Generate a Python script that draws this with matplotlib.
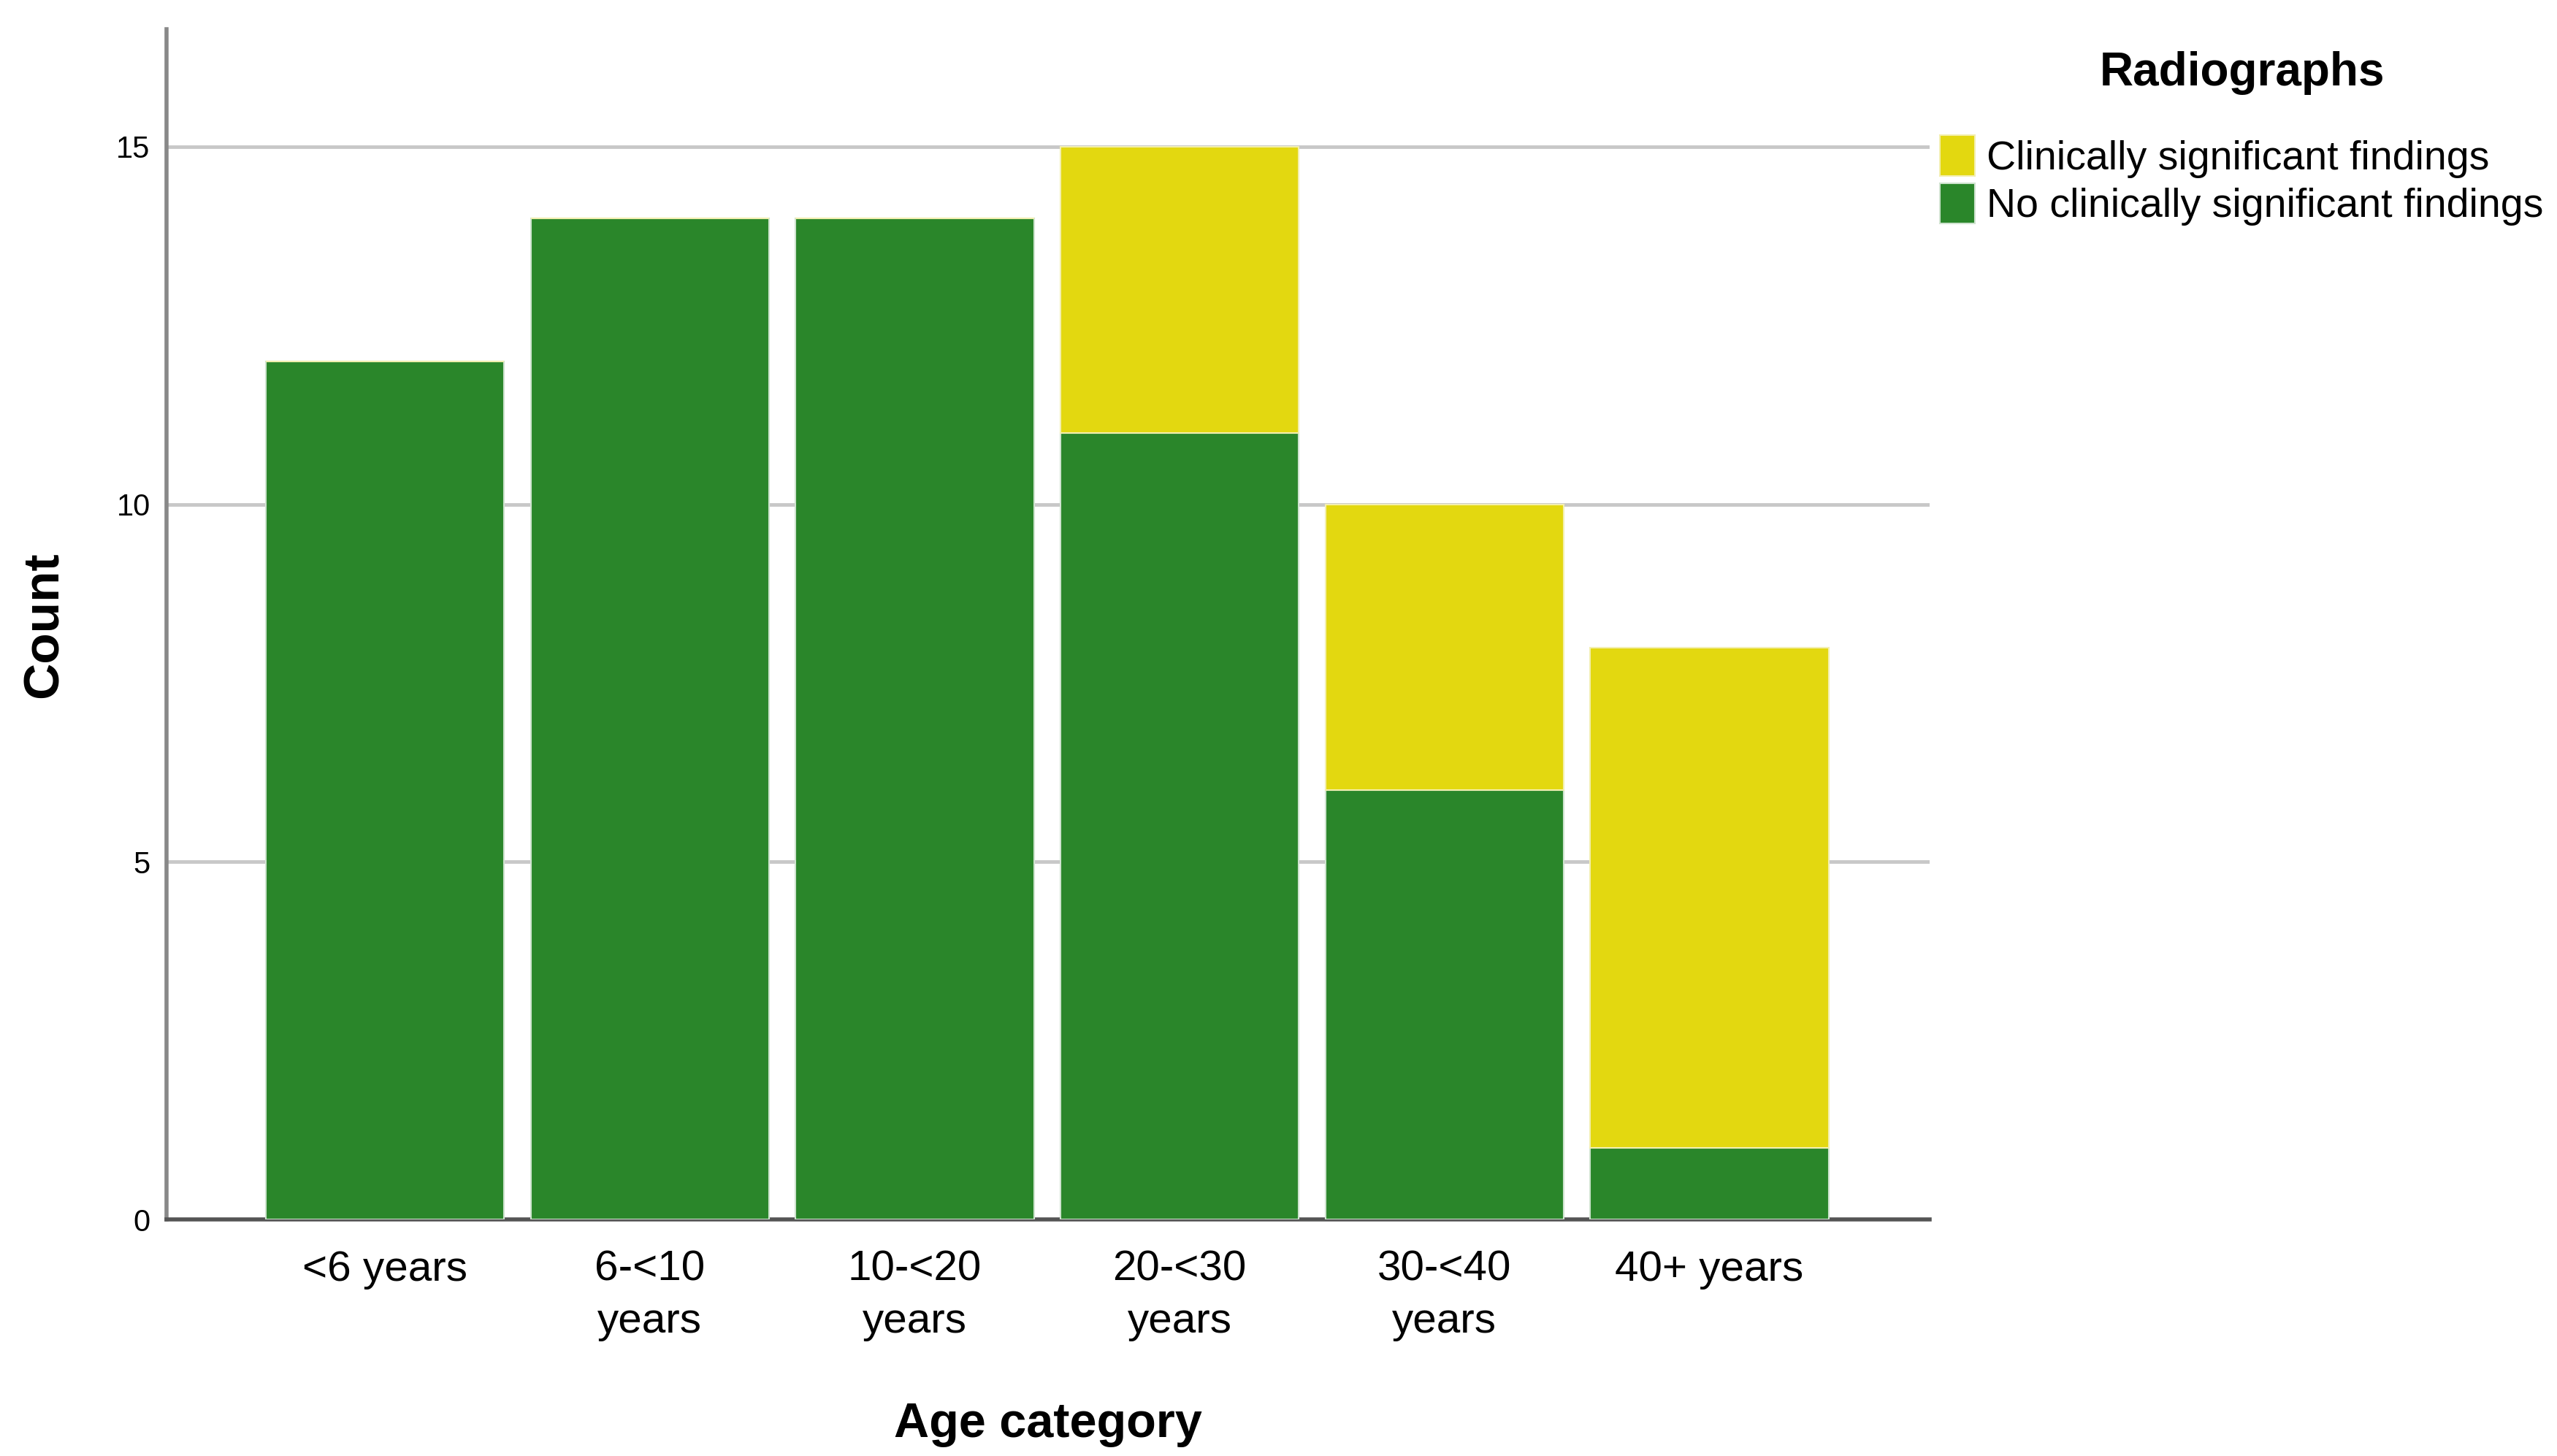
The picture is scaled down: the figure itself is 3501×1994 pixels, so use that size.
import matplotlib
matplotlib.use('Agg')
import matplotlib.pyplot as plt
import numpy as np

# data dari grafik
kategori_umur = ['<6 years', '6-<10\nyears', '10-<20\nyears', '20-<30\nyears', '30-<40\nyears', '40+ years']
tidak_signifikan = [12, 14, 14, 11, 6, 1]
signifikan = [0, 0, 0, 4, 4, 7]
label_seri = ['Clinically significant findings', 'No clinically significant findings']
warna_hijau = '#2a862a'
warna_kuning = '#e3d810'

huruf = ['Liberation Sans', 'DejaVu Sans']
plt.rcParams['font.family'] = huruf

fig = plt.figure(figsize=(35.01, 19.94), dpi=100)
ax = fig.add_axes([0.0651, 0.1624, 0.6894, 0.8174])

x = np.arange(len(kategori_umur))
ax.bar(x, tidak_signifikan, width=0.9, color=warna_hijau, edgecolor='#cfe3cf', linewidth=1.5,
       label=label_seri[1], zorder=3)
ax.bar(x, signifikan, width=0.9, bottom=tidak_signifikan, color=warna_kuning, edgecolor='#f3efb0',
       linewidth=1.5, label=label_seri[0], zorder=3)

ax.set_xlim(-0.825, 5.83)
ax.set_ylim(0, 16.64)
ax.set_yticks([0, 5, 10, 15])
ax.yaxis.grid(True, color='#c8c8c8', linewidth=3.5, zorder=0)
ax.set_axisbelow(True)
ax.tick_params(axis='both', length=0)
ax.tick_params(axis='y', labelsize=30, pad=16)
ax.tick_params(axis='x', labelsize=42, pad=30)
ax.set_xticks(x)
ax.set_xticklabels(kategori_umur, linespacing=1.4)

for s in ['top', 'right']:
    ax.spines[s].set_visible(False)
ax.spines['left'].set_color('#888888')
ax.spines['left'].set_linewidth(4)
ax.spines['bottom'].set_color('#555555')
ax.spines['bottom'].set_linewidth(4)

ax.set_ylabel('Count', fontsize=50, fontweight='bold', labelpad=48)
ax.set_xlabel('Age category', fontsize=48, fontweight='bold', labelpad=60)

h, l = ax.get_legend_handles_labels()
leg = fig.legend(h[::-1], l[::-1], loc='upper left', bbox_to_anchor=(0.7445, 0.99), frameon=False,
                 fontsize=40, handlelength=0.85, handleheight=1.15, handletextpad=0.3, labelspacing=0.12,
                 title='Radiographs', title_fontproperties={'weight': 'bold', 'size': 46})
leg._legend_box.sep = 40

fig.savefig('out.png', dpi=100)
